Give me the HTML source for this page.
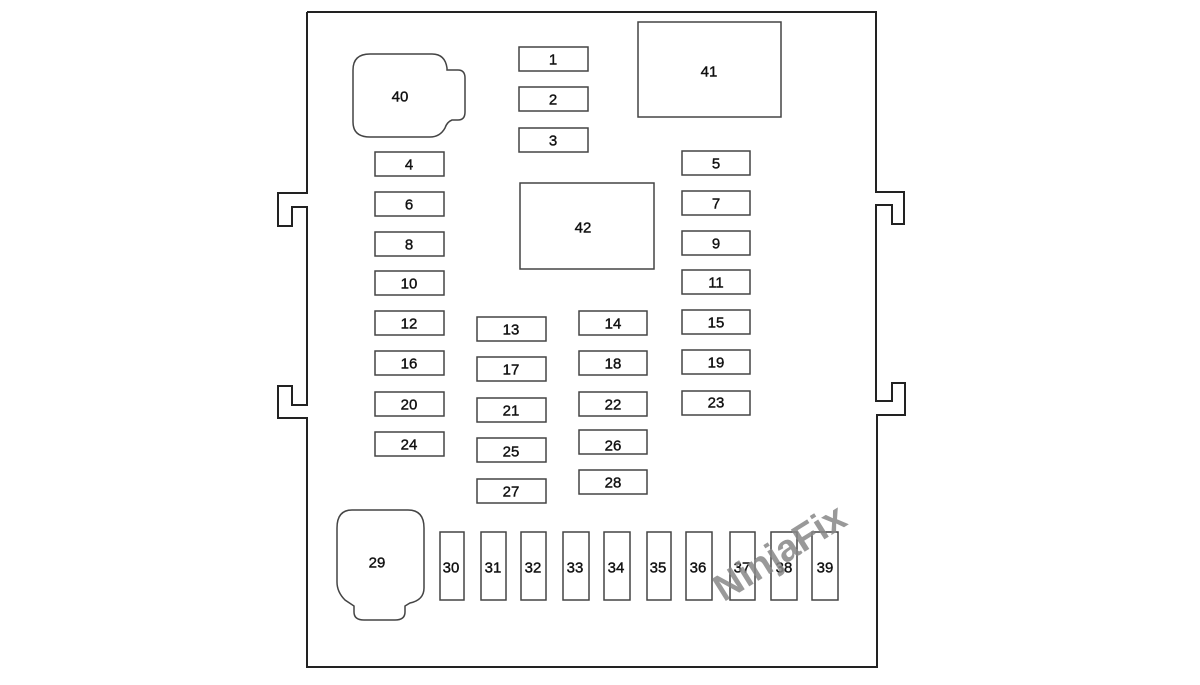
<!DOCTYPE html>
<html><head><style>
html,body{margin:0;padding:0;background:#fff;}
svg text{font-family:"Liberation Sans",sans-serif;font-size:15px;fill:#111;stroke:#111;stroke-width:0.4;text-anchor:middle;dominant-baseline:central;}
</style></head><body>
<svg width="1200" height="680" viewBox="0 0 1200 680" xmlns="http://www.w3.org/2000/svg">
<g fill="none" stroke="#222" stroke-width="2">
<polyline points="307,12 876,12 876,192 904,192 904,224 892,224 892,205 876,205 876,401 892,401 892,383 905,383 905,415 877,415 877,667 307,667 307,418 278,418 278,386 292,386 292,405 307,405 307,207 292,207 292,226 278,226 278,193 307,193 307,12"/>
</g>
<g fill="#fff" stroke="#444" stroke-width="1.5">
<path d="M370,54 H432 Q445,54 447,68 L447,70 H458 Q465,70 465,78 V112 Q465,120 458,120 H452 Q447,122 445,128 Q440,137 430,137 H370 Q353,137 353,122 V70 Q353,54 370,54 Z"/>
<path d="M352,510 H408 Q424,510 424,528 V588 Q424,600 410,603 L405,606 V612 Q405,620 395,620 H364 Q354,620 354,612 V606 L345,600 Q337,592 337,582 V528 Q337,510 352,510 Z"/>
<rect x="638" y="22" width="143" height="95"/>
<rect x="520" y="183" width="134" height="86"/>
</g>
<g fill="#fff" stroke="#444" stroke-width="1.5">
<rect x="519" y="47" width="69" height="24"/><rect x="519" y="87" width="69" height="24"/><rect x="519" y="128" width="69" height="24"/>
<rect x="375" y="152" width="69" height="24"/><rect x="375" y="192" width="69" height="24"/><rect x="375" y="232" width="69" height="24"/><rect x="375" y="271" width="69" height="24"/><rect x="375" y="311" width="69" height="24"/><rect x="375" y="351" width="69" height="24"/><rect x="375" y="392" width="69" height="24"/><rect x="375" y="432" width="69" height="24"/>
<rect x="477" y="317" width="69" height="24"/><rect x="477" y="357" width="69" height="24"/><rect x="477" y="398" width="69" height="24"/><rect x="477" y="438" width="69" height="24"/><rect x="477" y="479" width="69" height="24"/>
<rect x="579" y="311" width="68" height="24"/><rect x="579" y="351" width="68" height="24"/><rect x="579" y="392" width="68" height="24"/><rect x="579" y="430" width="68" height="24"/><rect x="579" y="470" width="68" height="24"/>
<rect x="682" y="151" width="68" height="24"/><rect x="682" y="191" width="68" height="24"/><rect x="682" y="231" width="68" height="24"/><rect x="682" y="270" width="68" height="24"/><rect x="682" y="310" width="68" height="24"/><rect x="682" y="350" width="68" height="24"/><rect x="682" y="391" width="68" height="24"/>
<rect x="440" y="532" width="24" height="68"/><rect x="481" y="532" width="25" height="68"/><rect x="521" y="532" width="25" height="68"/><rect x="563" y="532" width="26" height="68"/><rect x="604" y="532" width="26" height="68"/><rect x="647" y="532" width="24" height="68"/><rect x="686" y="532" width="26" height="68"/><rect x="730" y="532" width="25" height="68"/><rect x="771" y="532" width="26" height="68"/><rect x="812" y="532" width="26" height="68"/>
</g>
<text x="400" y="97">40</text><text x="709" y="72">41</text><text x="583" y="228">42</text><text x="377" y="563">29</text>
<text x="553" y="60">1</text><text x="553" y="100">2</text><text x="553" y="141">3</text>
<text x="409" y="165">4</text><text x="409" y="205">6</text><text x="409" y="245">8</text><text x="409" y="284">10</text><text x="409" y="324">12</text><text x="409" y="364">16</text><text x="409" y="405">20</text><text x="409" y="445">24</text>
<text x="511" y="330">13</text><text x="511" y="370">17</text><text x="511" y="411">21</text><text x="511" y="452">25</text><text x="511" y="492">27</text>
<text x="613" y="324">14</text><text x="613" y="364">18</text><text x="613" y="405">22</text><text x="613" y="446">26</text><text x="613" y="483">28</text>
<text x="716" y="164">5</text><text x="716" y="204">7</text><text x="716" y="244">9</text><text x="716" y="283">11</text><text x="716" y="323">15</text><text x="716" y="363">19</text><text x="716" y="403">23</text>
<text x="451" y="568">30</text><text x="493" y="568">31</text><text x="533" y="568">32</text><text x="575" y="568">33</text><text x="616" y="568">34</text><text x="658" y="568">35</text><text x="698" y="568">36</text><text x="742" y="568">37</text><text x="784" y="568">38</text><text x="825" y="568">39</text>
<text x="780" y="553" transform="rotate(-32 780 553)" style="font-size:38px;font-weight:bold;fill:#888;stroke:none;opacity:0.85">NinjaFix</text>
</svg>
</body></html>
